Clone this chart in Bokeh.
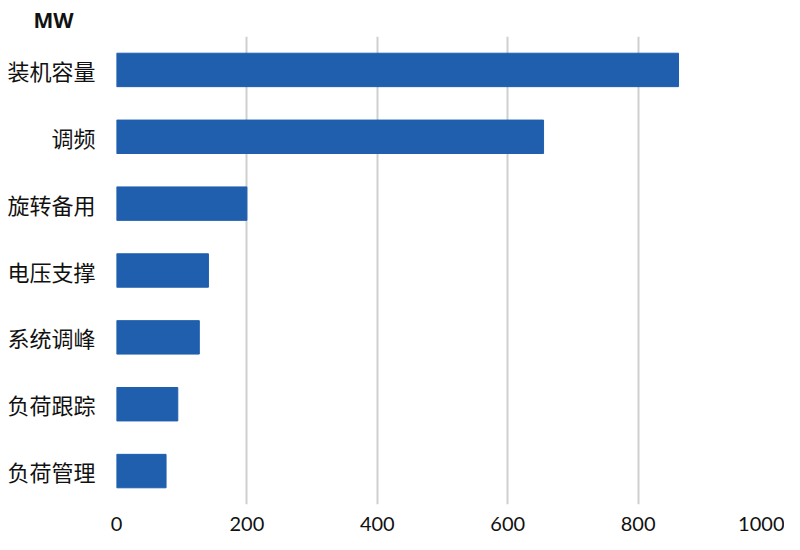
from bokeh.plotting import figure
from bokeh.models import FactorRange, Range1d, FixedTicker
from bokeh.embed import file_html
from bokeh.resources import INLINE

categories = ["装机容量", "调频", "旋转备用", "电压支撑", "系统调峰", "负荷跟踪", "负荷管理"]
values = [862, 655, 200, 141, 127, 94, 76]
x_ticks = [0, 200, 400, 600, 800, 1000]
unit_label = "MW"

cats_bottom_up = list(reversed(categories))
vals_bottom_up = list(reversed(values))

W, H = 784, 534
BL, BR, BT, BB = 116, 16, 36, 30

p = figure(width=W, height=H, output_backend="svg", toolbar_location=None,
           y_range=FactorRange(*cats_bottom_up, range_padding=0),
           x_range=Range1d(0, 1000), title=unit_label,
           min_border_left=BL, min_border_right=BR, min_border_top=BT, min_border_bottom=BB)
p.outline_line_color = None
p.background_fill_color = "white"
p.border_fill_color = "white"

p.title.align = "left"
p.title.offset = -83
p.title.text_font = "Noto Sans"
p.title.text_font_style = "bold"
p.title.text_font_size = "21px"
p.title.text_color = "#111111"
p.title.standoff = 5

p.hbar(y=cats_bottom_up, right=vals_bottom_up, left=0, height=0.5,
       fill_color="#1F5FAD", line_color="#1F5FAD")

p.xgrid.ticker = FixedTicker(ticks=x_ticks)
p.xgrid.grid_line_color = "#cfcfcf"
p.xgrid.grid_line_width = 2
p.ygrid.grid_line_color = None

p.xaxis.ticker = FixedTicker(ticks=x_ticks)
p.xaxis.axis_line_color = None
p.xaxis.major_tick_line_color = None
p.xaxis.minor_tick_line_color = None
p.xaxis.major_label_text_font = "Lato"
p.xaxis.major_label_text_font_size = "20px"
p.xaxis.major_label_text_color = "#111111"
p.xaxis.major_label_standoff = 6

p.yaxis.axis_line_color = None
p.yaxis.major_tick_line_color = None
p.yaxis.minor_tick_line_color = None
p.yaxis.major_label_text_font = "Noto Sans CJK SC"
p.yaxis.major_label_text_font_size = "22px"
p.yaxis.major_label_text_color = "#111111"
p.yaxis.major_label_standoff = 15

open("out.html", "w").write(file_html(p, INLINE))
